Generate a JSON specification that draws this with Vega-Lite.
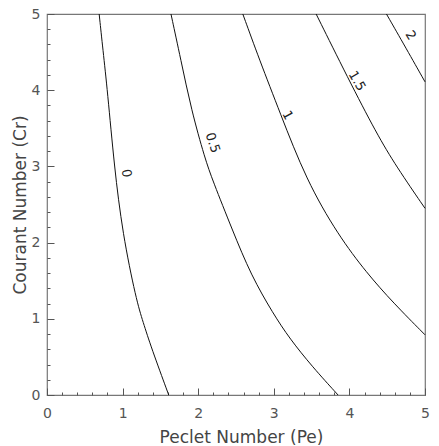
{
  "$schema": "https://vega.github.io/schema/vega-lite/v6.json",
  "width": 378,
  "height": 381,
  "autosize": {"type": "none"},
  "padding": {"left": 47, "top": 14, "right": 14, "bottom": 51},
  "background": "white",
  "config": {
    "view": {"stroke": "#777", "strokeWidth": 1.2},
    "font": "DejaVu Sans"
  },
  "datasets": {
    "curves": [
      {"level": "0", "pe": 0.69, "cr": 5},
      {"level": "0", "pe": 0.74, "cr": 4.53},
      {"level": "0", "pe": 0.80, "cr": 3.99},
      {"level": "0", "pe": 0.89, "cr": 3.0},
      {"level": "0", "pe": 1.0, "cr": 2.12},
      {"level": "0", "pe": 1.18, "cr": 1.25},
      {"level": "0", "pe": 1.27, "cr": 0.96},
      {"level": "0", "pe": 1.38, "cr": 0.62},
      {"level": "0", "pe": 1.61, "cr": 0},
      {"level": "0.5", "pe": 1.64, "cr": 5},
      {"level": "0.5", "pe": 1.77, "cr": 4.40},
      {"level": "0.5", "pe": 1.91, "cr": 3.74},
      {"level": "0.5", "pe": 2.09, "cr": 3.10},
      {"level": "0.5", "pe": 2.19, "cr": 2.82},
      {"level": "0.5", "pe": 2.45, "cr": 2.17},
      {"level": "0.5", "pe": 2.70, "cr": 1.57},
      {"level": "0.5", "pe": 2.99, "cr": 1.07},
      {"level": "0.5", "pe": 3.21, "cr": 0.74},
      {"level": "0.5", "pe": 3.51, "cr": 0.37},
      {"level": "0.5", "pe": 3.85, "cr": 0},
      {"level": "1", "pe": 2.59, "cr": 5},
      {"level": "1", "pe": 2.81, "cr": 4.40},
      {"level": "1", "pe": 3.08, "cr": 3.71},
      {"level": "1", "pe": 3.43, "cr": 2.82},
      {"level": "1", "pe": 3.85, "cr": 2.10},
      {"level": "1", "pe": 4.23, "cr": 1.60},
      {"level": "1", "pe": 4.58, "cr": 1.21},
      {"level": "1", "pe": 5.0, "cr": 0.79},
      {"level": "1.5", "pe": 3.56, "cr": 5},
      {"level": "1.5", "pe": 3.98, "cr": 4.16},
      {"level": "1.5", "pe": 4.36, "cr": 3.43},
      {"level": "1.5", "pe": 4.62, "cr": 3.0},
      {"level": "1.5", "pe": 5.0, "cr": 2.45},
      {"level": "2", "pe": 4.49, "cr": 5},
      {"level": "2", "pe": 4.75, "cr": 4.55},
      {"level": "2", "pe": 5.0, "cr": 4.11}
    ],
    "labels": [
      {"level": "0", "pe": 1.05, "cr": 2.91},
      {"level": "0.5", "pe": 2.19, "cr": 3.31},
      {"level": "1", "pe": 3.18, "cr": 3.67},
      {"level": "1.5", "pe": 4.10, "cr": 4.12},
      {"level": "2", "pe": 4.81, "cr": 4.72}
    ]
  },
  "resolve": {"axis": {"x": "independent", "y": "independent"}},
  "layer": [
    {
      "data": {"name": "curves"},
      "mark": {"type": "line", "color": "#111", "strokeWidth": 1, "interpolate": "basis"},
      "encoding": {
        "x": {
          "field": "pe", "type": "quantitative",
          "scale": {"domain": [0, 5], "nice": false, "zero": false},
          "axis": {
            "orient": "bottom",
            "title": "Peclet Number (Pe)",
            "values": [0, 1, 2, 3, 4, 5],
            "format": "d",
            "tickSize": -7,
            "tickColor": "#555",
            "domain": false,
            "grid": false,
            "labelOverlap": false,
            "labelFontSize": 14,
            "labelColor": "#555",
            "labelPadding": 18,
            "labelFlush": false,
            "titleFontSize": 17,
            "titleFontWeight": "normal",
            "titleColor": "#444",
            "titleBaseline": "middle",
            "titleY": 42,
            "titleX": 194
          }
        },
        "y": {
          "field": "cr", "type": "quantitative",
          "scale": {"domain": [0, 5], "nice": false, "zero": false},
          "axis": {
            "orient": "left",
            "title": "Courant Number (Cr)",
            "values": [0, 1, 2, 3, 4, 5],
            "format": "d",
            "tickSize": -7,
            "tickColor": "#555",
            "domain": false,
            "grid": false,
            "labelOverlap": false,
            "labelFontSize": 14,
            "labelColor": "#555",
            "labelPadding": 14,
            "labelFlush": false,
            "titleFontSize": 17,
            "titleFontWeight": "normal",
            "titleColor": "#444",
            "titleBaseline": "middle",
            "titleAlign": "center",
            "titleX": -27,
            "titleY": 190.5
          }
        },
        "detail": {"field": "level", "type": "nominal"}
      }
    },
    {
      "data": {"name": "labels"},
      "transform": [{"filter": "datum.level === '0'"}],
      "mark": {"type": "text", "angle": 82, "fontSize": 13, "color": "#222", "align": "center", "baseline": "middle"},
      "encoding": {
        "x": {
          "field": "pe", "type": "quantitative",
          "axis": {"orient": "bottom", "title": null, "values": [0.2, 0.4, 0.6, 0.8, 1.2, 1.4, 1.6, 1.8, 2.2, 2.4, 2.6, 2.8, 3.2, 3.4, 3.6, 3.8, 4.2, 4.4, 4.6, 4.8], "labels": false, "tickSize": -3, "tickColor": "#555", "domain": false, "grid": false}
        },
        "y": {
          "field": "cr", "type": "quantitative",
          "axis": {"orient": "left", "title": null, "values": [0.2, 0.4, 0.6, 0.8, 1.2, 1.4, 1.6, 1.8, 2.2, 2.4, 2.6, 2.8, 3.2, 3.4, 3.6, 3.8, 4.2, 4.4, 4.6, 4.8], "labels": false, "tickSize": -3, "tickColor": "#555", "domain": false, "grid": false}
        },
        "text": {"field": "level", "type": "nominal"}
      }
    },
    {
      "data": {"name": "labels"},
      "transform": [{"filter": "datum.level === '0.5'"}],
      "mark": {"type": "text", "angle": 72, "fontSize": 13, "color": "#222", "align": "center", "baseline": "middle"},
      "encoding": {
        "x": {"field": "pe", "type": "quantitative", "axis": null},
        "y": {"field": "cr", "type": "quantitative", "axis": null},
        "text": {"field": "level", "type": "nominal"}
      }
    },
    {
      "data": {"name": "labels"},
      "transform": [{"filter": "datum.level === '1'"}],
      "mark": {"type": "text", "angle": 62, "fontSize": 13, "color": "#222", "align": "center", "baseline": "middle"},
      "encoding": {
        "x": {"field": "pe", "type": "quantitative", "axis": null},
        "y": {"field": "cr", "type": "quantitative", "axis": null},
        "text": {"field": "level", "type": "nominal"}
      }
    },
    {
      "data": {"name": "labels"},
      "transform": [{"filter": "datum.level === '1.5'"}],
      "mark": {"type": "text", "angle": 60, "fontSize": 13, "color": "#222", "align": "center", "baseline": "middle"},
      "encoding": {
        "x": {"field": "pe", "type": "quantitative", "axis": null},
        "y": {"field": "cr", "type": "quantitative", "axis": null},
        "text": {"field": "level", "type": "nominal"}
      }
    },
    {
      "data": {"name": "labels"},
      "transform": [{"filter": "datum.level === '2'"}],
      "mark": {"type": "text", "angle": 58, "fontSize": 13, "color": "#222", "align": "center", "baseline": "middle"},
      "encoding": {
        "x": {"field": "pe", "type": "quantitative", "axis": null},
        "y": {"field": "cr", "type": "quantitative", "axis": null},
        "text": {"field": "level", "type": "nominal"}
      }
    }
  ]
}
